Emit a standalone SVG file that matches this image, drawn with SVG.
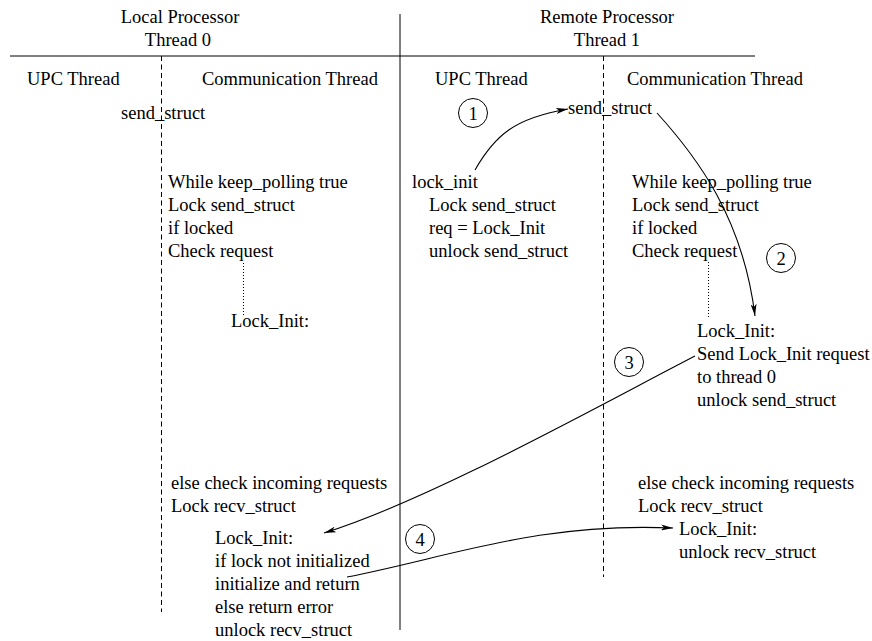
<svg xmlns="http://www.w3.org/2000/svg" width="872" height="641" viewBox="0 0 872 641">
  <style>
    text { font-family: "Liberation Serif", "Times New Roman", serif; font-size: 18.5px; fill: #000; }
    .mid { text-anchor: middle; }
    .rule { stroke: #000; stroke-width: 1; fill: none; }
    .lane { stroke: #000; stroke-width: 1; stroke-dasharray: 5 3.5; fill: none; }
    .dots { stroke: #000; stroke-width: 1; stroke-dasharray: 1 2; fill: none; }
    .flow { stroke: #000; stroke-width: 1.1; fill: none; marker-end: url(#head); }
    .step circle { fill: none; stroke: #000; stroke-width: 1; }
  </style>
  <defs>
    <marker id="head" viewBox="0 0 12 6" refX="12" refY="3" markerWidth="12" markerHeight="6" markerUnits="userSpaceOnUse" orient="auto">
      <path d="M0,0 L12,3 L0,6 L3,3 Z" fill="#000"/>
    </marker>
  </defs>
  <rect width="872" height="641" fill="#fff"/>

  <!-- frame: header rule, processor divider, thread lanes -->
  <g id="frame">
    <line class="rule" x1="10" y1="56" x2="755" y2="56"/>
    <line class="rule" x1="400" y1="14" x2="400" y2="630"/>
    <line class="lane" x1="161.5" y1="56" x2="161.5" y2="612"/>
    <line class="lane" x1="603.5" y1="56" x2="603.5" y2="577"/>
    <line class="dots" x1="243.5" y1="263" x2="243.5" y2="315"/>
    <line class="dots" x1="708.5" y1="262" x2="708.5" y2="318"/>
  </g>

  <!-- headings -->
  <g id="local-heading">
    <text class="mid" x="180" y="23">Local Processor</text>
    <text class="mid" x="178" y="46">Thread 0</text>
  </g>
  <g id="remote-heading">
    <text class="mid" x="607" y="23">Remote Processor</text>
    <text class="mid" x="607" y="46">Thread 1</text>
  </g>
  <g id="lane-titles">
    <text x="27" y="85">UPC Thread</text>
    <text x="202" y="85">Communication Thread</text>
    <text x="435" y="85">UPC Thread</text>
    <text x="627" y="85">Communication Thread</text>
  </g>

  <!-- local processor, thread 0 -->
  <g id="local-send-struct">
    <text x="121" y="119">send_struct</text>
  </g>
  <g id="local-comm-poll">
    <text x="168" y="188">While keep_polling true</text>
    <text x="168" y="211">Lock send_struct</text>
    <text x="168" y="234">if locked</text>
    <text x="168" y="257">Check request</text>
  </g>
  <g id="local-comm-lockinit">
    <text x="231" y="327">Lock_Init:</text>
  </g>
  <g id="local-comm-incoming">
    <text x="171" y="489">else check incoming requests</text>
    <text x="171" y="512">Lock recv_struct</text>
  </g>
  <g id="local-comm-handler">
    <text x="215" y="544">Lock_Init:</text>
    <text x="215" y="567">if lock not initialized</text>
    <text x="215" y="590">initialize and return</text>
    <text x="215" y="613">else return error</text>
    <text x="215" y="636">unlock recv_struct</text>
  </g>

  <!-- remote processor, thread 1 -->
  <g id="remote-send-struct">
    <text x="568" y="114">send_struct</text>
  </g>
  <g id="remote-upc-lockinit">
    <text x="412" y="188">lock_init</text>
    <text x="429" y="211">Lock send_struct</text>
    <text x="429" y="234">req = Lock_Init</text>
    <text x="429" y="257">unlock send_struct</text>
  </g>
  <g id="remote-comm-poll">
    <text x="632" y="188">While keep_polling true</text>
    <text x="632" y="211">Lock send_struct</text>
    <text x="632" y="234">if locked</text>
    <text x="632" y="257">Check request</text>
  </g>
  <g id="remote-comm-lockinit">
    <text x="697" y="337">Lock_Init:</text>
    <text x="697" y="360">Send Lock_Init request</text>
    <text x="697" y="383">to thread 0</text>
    <text x="697" y="406">unlock send_struct</text>
  </g>
  <g id="remote-comm-incoming">
    <text x="638" y="489">else check incoming requests</text>
    <text x="638" y="512">Lock recv_struct</text>
    <text x="679" y="535">Lock_Init:</text>
    <text x="679" y="558">unlock recv_struct</text>
  </g>

  <!-- step numbers -->
  <g id="step-1" class="step"><circle cx="473" cy="113" r="14.5"/><text class="mid" x="473" y="119.5">1</text></g>
  <g id="step-2" class="step"><circle cx="781" cy="258" r="14.5"/><text class="mid" x="781" y="264.5">2</text></g>
  <g id="step-3" class="step"><circle cx="629" cy="362" r="14.5"/><text class="mid" x="629" y="368.5">3</text></g>
  <g id="step-4" class="step"><circle cx="420" cy="539" r="14.5"/><text class="mid" x="420" y="545.5">4</text></g>

  <!-- connectors -->
  <g id="connectors">
    <path class="flow" d="M475,170 C495,135 515,118 568,109"/>
    <path class="flow" d="M657,113 C697,157 743,218 755,316"/>
    <path class="flow" d="M695,356 C600,405 430,500 324,533"/>
    <path class="flow" d="M347,577 C450,557 538,522 673,528"/>
  </g>
</svg>
